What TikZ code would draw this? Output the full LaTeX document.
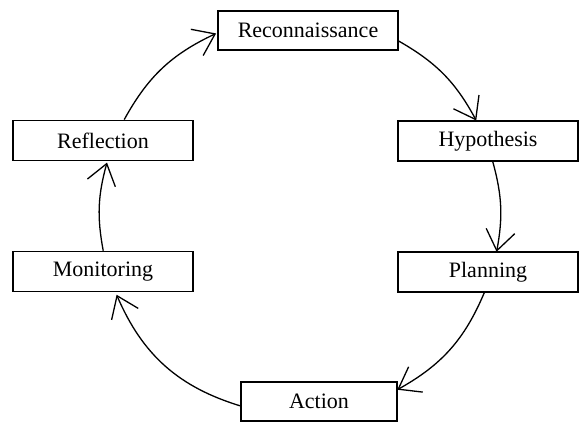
\documentclass[tikz,border=0pt]{standalone}
\usepackage{fontspec}
\setmainfont{Liberation Serif}
\newfontfamily\boxfont{Liberation Serif}
\usetikzlibrary{arrows.meta,calc}
\begin{document}
\begin{tikzpicture}[x=1pt,y=1pt,
  box/.style={draw, line width=1.3pt, minimum width=180pt, minimum height=40pt, inner sep=0pt, font=\boxfont\fontsize{22}{26}\selectfont},
  flow/.style={line width=1.3pt, -{Straight Barb[length=20pt,width=29pt,line width=1.3pt]}}]
\useasboundingbox (0,0) rectangle (580,422);
\coordinate (c) at (300,207);
\node[box, minimum height=39pt] (rec) at (308,391.5) {Reconnaissance};
\node[box] (hyp) at (488,281) {Hypothesis};
\node[box] (plan) at (488,150) {Planning};
\node[box, minimum width=156pt, minimum height=39pt] (act) at (319,20.5) {Action};
\node[box] (mon) at (103,150.5) {Monitoring};
\node[box] (ref) at (103,281.5) {Reflection};
% connector end points on the cycle circle
\coordinate (rec-out) at ($(c)+(60.5:200)$);
\coordinate (hyp-in) at ($(c)+(28.2:200)$);
\coordinate (hyp-out) at ($(c)+(15.4:200)$);
\coordinate (plan-in) at ($(c)+(-10.6:200)$);
\coordinate (plan-out) at ($(c)+(-22.7:200)$);
\coordinate (act-in) at ($(c)+(-60.9:200)$);
\coordinate (act-out) at ($(c)+(-107:200)$);
\coordinate (mon-in) at ($(c)+(-156.5:200)$);
\coordinate (mon-out) at ($(c)+(-169.7:200)$);
\coordinate (ref-in) at ($(c)+(164.8:200)$);
\coordinate (ref-out) at ($(c)+(151.5:200)$);
\coordinate (rec-in) at ($(c)+(114.8:200)$);
\draw[flow] (rec-out) to[bend left=16] (hyp-in);
\draw[flow] (hyp-out) to[bend left=13] (plan-in);
\draw[flow] (plan-out) to[bend left=19] (act-in);
\draw[flow] (act-out) to[bend left=25] (mon-in);
\draw[flow] (mon-out) to[bend left=13] (ref-in);
\draw[flow] (ref-out) to[bend left=18] (rec-in);
\end{tikzpicture}
\end{document}
